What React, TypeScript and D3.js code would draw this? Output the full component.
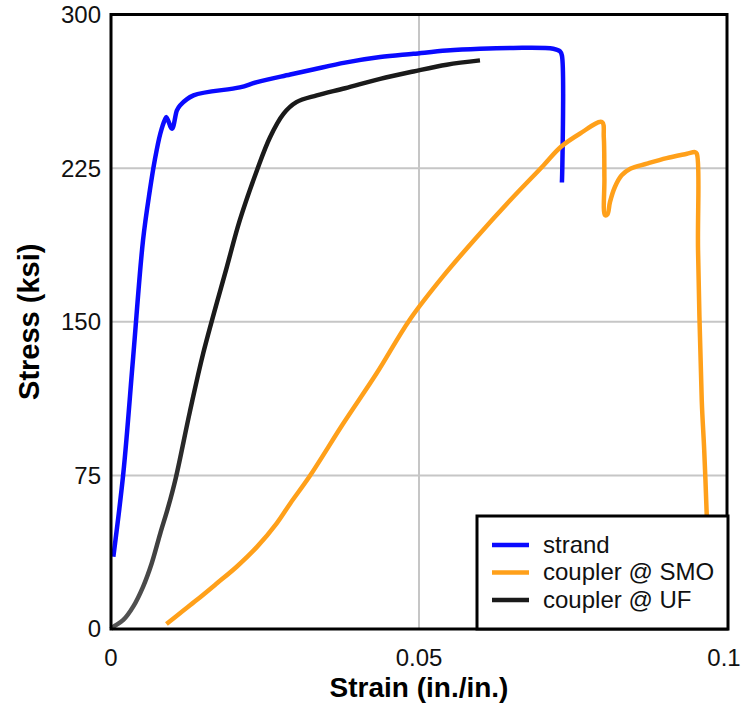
import React from 'react';
import * as d3 from 'd3';

// strain (in./in.) / stress (ksi)
const strandStrain = [0.00038, 0.002, 0.0036, 0.0052, 0.0063, 0.0071, 0.008, 0.0088, 0.009, 0.0099, 0.0107, 0.0112, 0.0134, 0.0209, 0.0237, 0.0291, 0.033, 0.038, 0.0437, 0.0491, 0.0545, 0.0599, 0.0653, 0.0718, 0.0729, 0.0732, 0.0732];
const strandStress = [35.3, 76, 132.8, 189.8, 214, 228.8, 241.8, 249, 249.9, 244.2, 253.2, 255.6, 260.5, 264.4, 267, 270.7, 273.3, 276.5, 279.2, 280.8, 282.4, 283.3, 283.7, 283.3, 282, 280, 218];

const smoStrain = [0.009, 0.0112, 0.0139, 0.0172, 0.0204, 0.0237, 0.0269, 0.0291, 0.0323, 0.0377, 0.0431, 0.0485, 0.054, 0.0594, 0.0648, 0.0702, 0.073, 0.0761, 0.0797, 0.08, 0.0801, 0.0802, 0.0806, 0.081, 0.0818, 0.0829, 0.0843, 0.087, 0.0902, 0.0935, 0.0948, 0.0951, 0.0953, 0.0959, 0.0963, 0.0967, 0.0969];
const smoStress = [2.4, 7.7, 14.1, 22.3, 30.4, 40.1, 51.6, 61.3, 74.8, 100.3, 124.7, 151, 172.5, 191.4, 209.3, 226.3, 235.3, 241.8, 247.5, 240, 220, 202, 202.5, 208.4, 215.8, 221.5, 224.7, 227.2, 229.9, 232, 232.8, 232, 184.9, 111.7, 87.3, 56.4, 35];

const ufStrain = [0, 0.0004, 0.002, 0.0036, 0.0052, 0.0066, 0.008, 0.0093, 0.0105, 0.0128, 0.015, 0.0188, 0.0209, 0.0237, 0.0258, 0.028, 0.0301, 0.0334, 0.038, 0.0437, 0.0491, 0.0545, 0.0599];
const ufStress = [0, 1.1, 4.4, 10.9, 20.6, 32, 46.7, 59.7, 73.5, 106, 135, 176.7, 199.5, 224, 240, 251.5, 257.2, 260.5, 264, 268.6, 272.2, 275.5, 277.6];

const xTicks = [0, 0.05, 0.1];
const xTickLabels = ['0', '0.05', '0.1'];
const yTicks = [0, 75, 150, 225, 300];
const seriesNames = ['strand', 'coupler @ SMO', 'coupler @ UF'];
const seriesColors = ['#0a0aff', '#ffa01a', '#1a1a1a'];

const W = 743;
const H = 706;
const margin = { top: 14.5, right: 16, bottom: 77, left: 111 };
const font = '"Liberation Sans", Arial, sans-serif';

export default function App() {
  const x = d3.scaleLinear().domain([0, 0.1]).range([margin.left, W - margin.right]);
  const y = d3.scaleLinear().domain([0, 300]).range([H - margin.bottom, margin.top]);

  const line = d3
    .line<[number, number]>()
    .x((d) => x(d[0]))
    .y((d) => y(d[1]))
    .curve(d3.curveCatmullRom.alpha(0.5));

  const series = [
    strandStrain.map((s, i) => [s, strandStress[i]] as [number, number]),
    smoStrain.map((s, i) => [s, smoStress[i]] as [number, number]),
    ufStrain.map((s, i) => [s, ufStress[i]] as [number, number]),
  ];

  const [x0, x1] = x.range();
  const [y0, y1] = y.range();

  // legend box
  const lg = { left: 477, top: 516, right: 728, bottom: y0, rowY: 545, rowStep: 27.5 };

  return (
    <svg width={W} height={H} style={{ position: 'absolute', left: 0, top: 0, background: '#fff' }}>
      <defs>
        <linearGradient id="ufGrad" gradientUnits="userSpaceOnUse" x1="0" y1={y(0)} x2="0" y2={y(120)}>
          <stop offset="0%" stopColor="#555" />
          <stop offset="100%" stopColor="#1a1a1a" />
        </linearGradient>
      </defs>

      {/* grid */}
      {yTicks.slice(1, -1).map((t) => (
        <line key={'gy' + t} x1={x0} x2={x1} y1={y(t)} y2={y(t)} stroke="#c6c6c6" strokeWidth={2} />
      ))}
      <line x1={x(0.05)} x2={x(0.05)} y1={y0} y2={y1} stroke="#c6c6c6" strokeWidth={2} />

      {/* curves */}
      {series.map((pts, i) => (
        <path
          key={seriesNames[i]}
          d={line(pts) ?? ''}
          fill="none"
          stroke={i === 2 ? 'url(#ufGrad)' : seriesColors[i]}
          strokeWidth={4.5}
          strokeLinejoin="round"
        />
      ))}

      {/* frame */}
      <rect x={x0} y={y1} width={x1 - x0} height={y0 - y1} fill="none" stroke="#000" strokeWidth={3} />

      {/* y ticks */}
      {yTicks.map((t) => (
        <text key={'ty' + t} x={x0 - 10} y={y(t)} dy="0.35em" textAnchor="end" fontFamily={font} fontSize={24} fill="#111">
          {t}
        </text>
      ))}
      {/* x ticks */}
      {xTicks.map((t, i) => (
        <text key={'tx' + t} x={i === 2 ? x(t) - 3 : x(t)} y={666} textAnchor="middle" fontFamily={font} fontSize={24} fill="#111">
          {xTickLabels[i]}
        </text>
      ))}

      <text x={x(0.05)} y={697} textAnchor="middle" fontFamily={font} fontSize={28} fontWeight="bold" fill="#000">
        Strain (in./in.)
      </text>
      <text
        transform={`translate(39,${(y0 + y1) / 2}) rotate(-90)`}
        textAnchor="middle"
        fontFamily={font}
        fontSize={29}
        fontWeight="bold"
        fill="#000"
      >
        Stress (ksi)
      </text>

      {/* legend */}
      <rect x={lg.left} y={lg.top} width={lg.right - lg.left} height={lg.bottom - lg.top} fill="#fff" stroke="#000" strokeWidth={3} />
      {seriesNames.map((n, i) => (
        <g key={'lg' + n}>
          <line x1={492} x2={529} y1={lg.rowY + i * lg.rowStep} y2={lg.rowY + i * lg.rowStep} stroke={seriesColors[i]} strokeWidth={4.5} />
          <text x={543} y={lg.rowY + i * lg.rowStep} dy="0.33em" fontFamily={font} fontSize={24} fill="#111">
            {n}
          </text>
        </g>
      ))}
    </svg>
  );
}
